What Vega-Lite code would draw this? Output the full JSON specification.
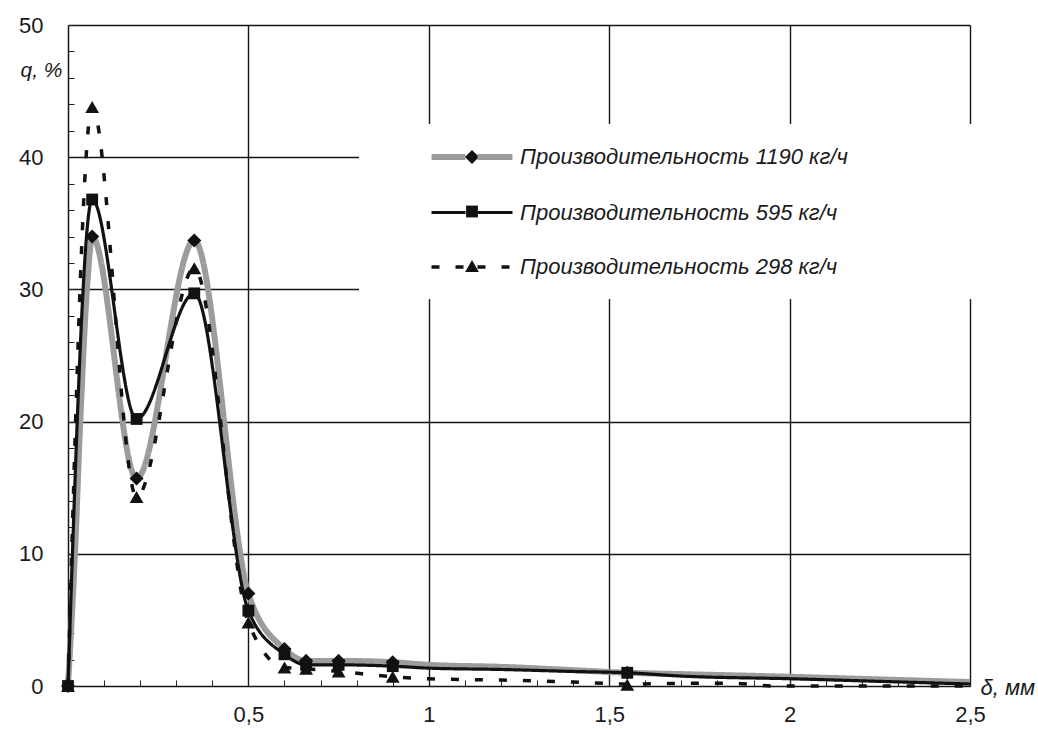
{
  "$schema": "https://vega.github.io/schema/vega-lite/v6.json",
  "width": 902,
  "height": 661,
  "autosize": {"type": "none"},
  "padding": {"left": 68, "top": 25, "right": 68, "bottom": 43},
  "background": "white",
  "config": {"view": {"stroke": null}, "font": "Liberation Sans"},
  "datasets": {
    "curves": [
      {"name": "Производительность 1190 кг/ч", "d": 0, "q": 0},
      {"name": "Производительность 1190 кг/ч", "d": 0.02, "q": 10.5},
      {"name": "Производительность 1190 кг/ч", "d": 0.034, "q": 20},
      {"name": "Производительность 1190 кг/ч", "d": 0.055, "q": 31},
      {"name": "Производительность 1190 кг/ч", "d": 0.067, "q": 34.0},
      {"name": "Производительность 1190 кг/ч", "d": 0.19, "q": 15.7},
      {"name": "Производительность 1190 кг/ч", "d": 0.35, "q": 33.7},
      {"name": "Производительность 1190 кг/ч", "d": 0.5, "q": 7.0},
      {"name": "Производительность 1190 кг/ч", "d": 0.6, "q": 2.8},
      {"name": "Производительность 1190 кг/ч", "d": 0.66, "q": 1.9},
      {"name": "Производительность 1190 кг/ч", "d": 0.75, "q": 1.9},
      {"name": "Производительность 1190 кг/ч", "d": 0.9, "q": 1.8},
      {"name": "Производительность 1190 кг/ч", "d": 1.0, "q": 1.6},
      {"name": "Производительность 1190 кг/ч", "d": 1.2, "q": 1.45},
      {"name": "Производительность 1190 кг/ч", "d": 1.4, "q": 1.2},
      {"name": "Производительность 1190 кг/ч", "d": 1.55, "q": 1.0},
      {"name": "Производительность 1190 кг/ч", "d": 1.7, "q": 0.9},
      {"name": "Производительность 1190 кг/ч", "d": 2.0, "q": 0.7},
      {"name": "Производительность 1190 кг/ч", "d": 2.25, "q": 0.5},
      {"name": "Производительность 1190 кг/ч", "d": 2.5, "q": 0.3},
      {"name": "Производительность 595 кг/ч", "d": 0, "q": 0},
      {"name": "Производительность 595 кг/ч", "d": 0.067, "q": 36.8},
      {"name": "Производительность 595 кг/ч", "d": 0.19, "q": 20.2},
      {"name": "Производительность 595 кг/ч", "d": 0.35, "q": 29.7},
      {"name": "Производительность 595 кг/ч", "d": 0.5, "q": 5.7},
      {"name": "Производительность 595 кг/ч", "d": 0.6, "q": 2.4},
      {"name": "Производительность 595 кг/ч", "d": 0.66, "q": 1.6},
      {"name": "Производительность 595 кг/ч", "d": 0.75, "q": 1.6},
      {"name": "Производительность 595 кг/ч", "d": 0.9, "q": 1.5},
      {"name": "Производительность 595 кг/ч", "d": 1.0, "q": 1.35},
      {"name": "Производительность 595 кг/ч", "d": 1.2, "q": 1.25},
      {"name": "Производительность 595 кг/ч", "d": 1.4, "q": 1.1},
      {"name": "Производительность 595 кг/ч", "d": 1.55, "q": 1.0},
      {"name": "Производительность 595 кг/ч", "d": 1.7, "q": 0.75},
      {"name": "Производительность 595 кг/ч", "d": 2.0, "q": 0.55},
      {"name": "Производительность 595 кг/ч", "d": 2.25, "q": 0.35},
      {"name": "Производительность 595 кг/ч", "d": 2.5, "q": 0.15},
      {"name": "Производительность 298 кг/ч", "d": 0, "q": 0},
      {"name": "Производительность 298 кг/ч", "d": 0.067, "q": 43.8},
      {"name": "Производительность 298 кг/ч", "d": 0.19, "q": 14.3},
      {"name": "Производительность 298 кг/ч", "d": 0.35, "q": 31.6},
      {"name": "Производительность 298 кг/ч", "d": 0.5, "q": 4.8},
      {"name": "Производительность 298 кг/ч", "d": 0.6, "q": 1.4},
      {"name": "Производительность 298 кг/ч", "d": 0.66, "q": 1.3},
      {"name": "Производительность 298 кг/ч", "d": 0.75, "q": 1.1},
      {"name": "Производительность 298 кг/ч", "d": 0.9, "q": 0.7},
      {"name": "Производительность 298 кг/ч", "d": 1.0, "q": 0.55},
      {"name": "Производительность 298 кг/ч", "d": 1.2, "q": 0.45},
      {"name": "Производительность 298 кг/ч", "d": 1.4, "q": 0.3},
      {"name": "Производительность 298 кг/ч", "d": 1.55, "q": 0.15},
      {"name": "Производительность 298 кг/ч", "d": 1.7, "q": 0.2},
      {"name": "Производительность 298 кг/ч", "d": 1.85, "q": 0.2},
      {"name": "Производительность 298 кг/ч", "d": 1.95, "q": 0.0},
      {"name": "Производительность 298 кг/ч", "d": 2.2, "q": 0.0},
      {"name": "Производительность 298 кг/ч", "d": 2.5, "q": 0.0}
    ],
    "points": [
      {"series": "1190", "d": 0, "q": 0},
      {"series": "1190", "d": 0.067, "q": 34.0},
      {"series": "1190", "d": 0.19, "q": 15.7},
      {"series": "1190", "d": 0.35, "q": 33.7},
      {"series": "1190", "d": 0.5, "q": 7.0},
      {"series": "1190", "d": 0.6, "q": 2.8},
      {"series": "1190", "d": 0.66, "q": 1.9},
      {"series": "1190", "d": 0.75, "q": 1.9},
      {"series": "1190", "d": 0.9, "q": 1.8},
      {"series": "1190", "d": 1.55, "q": 1.0},
      {"series": "595", "d": 0, "q": 0},
      {"series": "595", "d": 0.067, "q": 36.8},
      {"series": "595", "d": 0.19, "q": 20.2},
      {"series": "595", "d": 0.35, "q": 29.7},
      {"series": "595", "d": 0.5, "q": 5.7},
      {"series": "595", "d": 0.6, "q": 2.4},
      {"series": "595", "d": 0.66, "q": 1.6},
      {"series": "595", "d": 0.75, "q": 1.6},
      {"series": "595", "d": 0.9, "q": 1.5},
      {"series": "595", "d": 1.55, "q": 1.0},
      {"series": "298", "d": 0, "q": 0},
      {"series": "298", "d": 0.067, "q": 43.8},
      {"series": "298", "d": 0.19, "q": 14.3},
      {"series": "298", "d": 0.35, "q": 31.6},
      {"series": "298", "d": 0.5, "q": 4.8},
      {"series": "298", "d": 0.6, "q": 1.4},
      {"series": "298", "d": 0.66, "q": 1.3},
      {"series": "298", "d": 0.75, "q": 1.1},
      {"series": "298", "d": 0.9, "q": 0.7},
      {"series": "298", "d": 1.55, "q": 0.1}
    ]
  },
  "encoding": {
    "x": {
      "field": "d", "type": "quantitative",
      "scale": {"domain": [0, 2.5], "nice": false, "zero": false},
      "axis": {
        "values": [0,0.1,0.2,0.3,0.4,0.5,0.6,0.7,0.8,0.9,1,1.1,1.2,1.3,1.4,1.5,1.6,1.7,1.8,1.9,2,2.1,2.2,2.3,2.4,2.5],
        "labelExpr": "datum.value > 0 && abs(datum.value*2 - round(datum.value*2)) < 0.001 ? replace(format(datum.value, '.1~f'), '.', ',') : ''",
        "grid": true,
        "gridColor": "#161616",
        "gridWidth": 1.4,
        "gridOpacity": {"condition": {"test": "datum.value > 0 && abs(datum.value*2 - round(datum.value*2)) < 0.001", "value": 1}, "value": 0},
        "tickSize": -6, "tickColor": "#222222", "tickWidth": 1,
        "domainColor": "#161616", "domainWidth": 1.5,
        "labelFont": "Liberation Sans", "labelFontSize": 22, "labelColor": "#1a1a1a",
        "labelPadding": 24, "labelFlush": false, "labelOverlap": false,
        "title": "δ, мм", "titleFont": "Liberation Sans", "titleFontStyle": "italic", "titleFontWeight": "normal",
        "titleFontSize": 22, "titleColor": "#1a1a1a",
        "titleX": 912, "titleY": 1, "titleAlign": "left", "titleBaseline": "middle"
      }
    },
    "y": {
      "field": "q", "type": "quantitative",
      "scale": {"domain": [0, 50], "nice": false},
      "axis": {
        "values": [0,2,4,6,8,10,12,14,16,18,20,22,24,26,28,30,32,34,36,38,40,42,44,46,48,50],
        "labelExpr": "datum.value % 10 === 0 ? datum.label : ''",
        "grid": true,
        "gridColor": "#161616",
        "gridWidth": 1.4,
        "gridOpacity": {"condition": {"test": "datum.value > 0 && datum.value % 10 === 0", "value": 1}, "value": 0},
        "tickSize": -6, "tickColor": "#222222", "tickWidth": 1,
        "domainColor": "#161616", "domainWidth": 1.5,
        "labelFont": "Liberation Sans", "labelFontSize": 22, "labelColor": "#1a1a1a",
        "labelPadding": 31, "labelOverlap": false,
        "title": "q, %", "titleFont": "Liberation Sans", "titleFontStyle": "italic", "titleFontWeight": "normal",
        "titleFontSize": 21, "titleColor": "#1a1a1a", "titleAngle": 0,
        "titleX": -27, "titleY": 45, "titleAlign": "center", "titleBaseline": "middle"
      }
    }
  },
  "layer": [
    {
      "data": {"name": "curves"},
      "mark": {"type": "line", "interpolate": "monotone"},
      "encoding": {
        "color": {
          "field": "name", "type": "nominal",
          "scale": {"domain": ["Производительность 1190 кг/ч", "Производительность 595 кг/ч", "Производительность 298 кг/ч"], "range": ["#9c9c9c", "#111111", "#111111"]},
          "legend": {
            "orient": "none", "legendX": 291, "legendY": 99,
            "padding": 22, "title": null,
            "symbolType": "M7.9,0L14.7,0M17.1,0L24.1,0", "symbolSize": 100,
            "labelFont": "Liberation Sans", "labelFontSize": 22, "labelFontStyle": "italic", "labelColor": "#1a1a1a",
            "labelOffset": 117, "labelLimit": 1000, "rowPadding": 32.5,
            "zindex": 1
          }
        },
        "strokeDash": {
          "field": "name", "type": "nominal",
          "scale": {"domain": ["Производительность 1190 кг/ч", "Производительность 595 кг/ч", "Производительность 298 кг/ч"], "range": [[1, 0], [1, 0], [8, 16]]}
        },
        "strokeWidth": {
          "field": "name", "type": "nominal",
          "scale": {"type": "ordinal", "domain": ["Производительность 1190 кг/ч", "Производительность 595 кг/ч", "Производительность 298 кг/ч"], "range": [6, 3.2, 3.5]}
        }
      }
    },
    {
      "data": {"name": "points"},
      "mark": {"type": "point", "filled": true, "color": "#111111", "opacity": 1, "strokeWidth": 0},
      "encoding": {
        "shape": {
          "field": "series", "type": "nominal",
          "scale": {"domain": ["1190", "595", "298"], "range": ["diamond", "square", "triangle-up"]},
          "legend": {
            "orient": "none", "legendX": 291, "legendY": 99,
            "fillColor": "white", "padding": 22, "title": null,
            "symbolOffset": 80,
            "labelFont": "Liberation Sans", "labelFontSize": 22, "labelColor": "transparent",
            "labelOffset": 449, "labelLimit": 1000,
            "labelExpr": "'\u2800\u2800\u2800'",
            "rowPadding": 32.5, "symbolStrokeWidth": 0, "zindex": 0
          }
        },
        "size": {
          "field": "series", "type": "nominal",
          "scale": {"type": "ordinal", "domain": ["1190", "595", "298"], "range": [200, 140, 190]}
        }
      }
    }
  ]
}
